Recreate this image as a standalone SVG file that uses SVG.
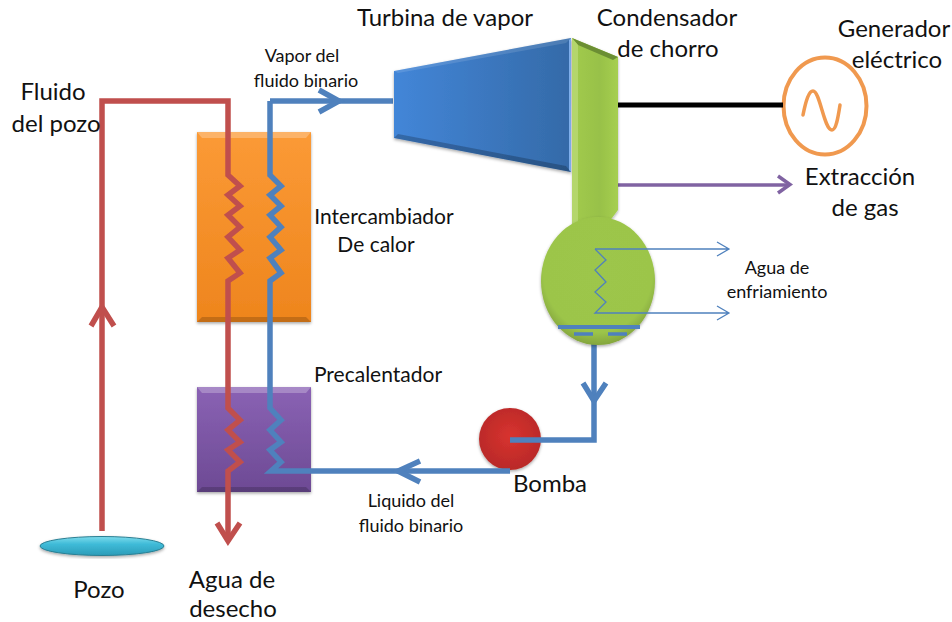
<svg xmlns="http://www.w3.org/2000/svg" width="952" height="622" viewBox="0 0 952 622">
<style>
text{font-family:Lato,"Open Sans","Liberation Sans",sans-serif;fill:#111;text-anchor:middle}
.l{font-size:24px}.m{font-size:21px}.s{font-size:18px}
.line{fill:none;stroke-linejoin:miter}
.red{stroke:#c0504d;stroke-width:5.500}
.blue{stroke:#4f81bd;stroke-width:5.500}
.thin{stroke:#4f81bd;stroke-width:1.300;fill:none}
.bev{fill:#fff;opacity:.25}
.bevd{fill:#000;opacity:.18}
</style>
<defs>
<linearGradient id="orange" x1="0" y1="0" x2="0" y2="1"><stop offset="0" stop-color="#fb9a36"/><stop offset="1" stop-color="#ee851d"/></linearGradient>
<linearGradient id="purple" x1="0" y1="0" x2="0" y2="1"><stop offset="0" stop-color="#8a62b4"/><stop offset="1" stop-color="#6d4a94"/></linearGradient>
<linearGradient id="turb" x1="0" y1="0" x2="1" y2="0"><stop offset="0" stop-color="#4386d8"/><stop offset="1" stop-color="#346aa8"/></linearGradient>
<linearGradient id="green" x1="0" y1="0" x2="1" y2="0"><stop offset="0" stop-color="#a2cb4e"/><stop offset=".6" stop-color="#98c148"/><stop offset="1" stop-color="#a6cf50"/></linearGradient>
<radialGradient id="greenb" cx=".5" cy=".42" r=".6"><stop offset="0" stop-color="#9dc64b"/><stop offset=".8" stop-color="#9cc54a"/><stop offset="1" stop-color="#7f9f3a"/></radialGradient>
<radialGradient id="redg" cx=".5" cy=".45" r=".55"><stop offset="0" stop-color="#d8322f"/><stop offset="1" stop-color="#b92a28"/></radialGradient>
<linearGradient id="cyan" x1="0" y1="0" x2="0" y2="1"><stop offset="0" stop-color="#7fdcec"/><stop offset=".4" stop-color="#3fbbd8"/><stop offset="1" stop-color="#2c9cb8"/></linearGradient>
<filter id="soft" x="-10%" y="-10%" width="120%" height="120%"><feGaussianBlur stdDeviation="0.5"/></filter>
<filter id="shadow" x="-10%" y="-10%" width="120%" height="125%"><feDropShadow dx="0" dy="1.500" stdDeviation="1.500" flood-color="#000" flood-opacity=".35"/></filter>
</defs>

<g id="intercambiador" filter="url(#shadow)">
<rect x="197" y="132" width="114" height="190" fill="url(#orange)"/>
<polygon class="bev" points="197,132 311,132 306,138 202,138"/>
<polygon class="bevd" points="197,322 311,322 306,317 202,317"/>
</g>
<g id="precalentador" filter="url(#shadow)">
<rect x="197" y="387" width="114" height="105" fill="url(#purple)"/>
<polygon class="bev" points="197,387 311,387 306,393 202,393"/>
<polygon class="bevd" points="197,492 311,492 306,487 202,487"/>
</g>
<g id="bomba">
<circle cx="510" cy="439" r="31" fill="url(#redg)" filter="url(#shadow)"/>
</g>
<g id="pozo">
<ellipse cx="102" cy="546" rx="62" ry="9.500" fill="url(#cyan)" stroke="#2a7f93" stroke-width="1" filter="url(#shadow)"/>
</g>
<g id="generador">
<ellipse cx="825" cy="106" rx="41.500" ry="48.500" fill="none" stroke="#f0994f" stroke-width="4"/>
<path d="M803,115 C806,100 809,91 813,91 C820,91 824,130 832,130 C836,130 838,118 840,105" fill="none" stroke="#f0994f" stroke-width="3.500" stroke-linecap="round"/>
</g>

<g id="connectors" filter="url(#soft)">
<path d="M618,105H783" fill="none" stroke="#000" stroke-width="5"/>
<path d="M618,185H788" fill="none" stroke="#8064a2" stroke-width="3.500"/>
<path d="M778,176L790,184.500L778,193" fill="none" stroke="#8064a2" stroke-width="3.500"/>
<path class="line red" d="M102,531V101H228V175L240,186L228,195L240,206L228,215L240,227L228,237L240,250L228,258L240,273L228,281V408L240,420L228,430L240,442L228,450L240,462L228,471V540"/>
<path class="line red" d="M217,523L228,541L240,523"/>
<path class="line red" d="M91,326L102,307L114,326"/>
<path class="line blue" d="M270,101V175L281,186L270,195L281,206L270,215L281,227L270,237L281,250L270,258L281,273L270,281V408L281,420L270,430L281,442L270,450L281,462L271,471H510"/>
<path class="line blue" d="M270,101H393"/>
<path class="line blue" d="M319,90L339,101L319,112"/>
<path class="line blue" d="M420,461L398,471L420,482"/>
<path class="line blue" d="M510,440H594V344"/>
<path class="line blue" d="M583,383L594,401L606,383"/>
</g>

<g id="turbina" filter="url(#shadow)">
<polygon points="394,71 571,38 571,172 394,138" fill="url(#turb)"/>
<polygon points="394,71 571,38 566,43 398,73" fill="#fff" opacity=".12"/>
<polygon points="394,138 571,172 566,166 398,134" fill="#000" opacity=".22"/>
<polygon points="569,40 571,38 571,172 569,170" fill="#7fb0ee"/>
</g>
<g id="condensador">
<path d="M572,38L618,57V210L606,226H573Z" fill="url(#green)" filter="url(#shadow)"/>
<polygon points="572,38 618,57 613,60 578,45" fill="#6b8e33"/>
<polygon points="572,38 578,45 578,226 572,226" fill="#b4d66c"/>
<ellipse cx="598" cy="281" rx="57" ry="64" fill="url(#greenb)" filter="url(#shadow)"/>
<path d="M595,249H729M717,242L729,249L717,256" class="thin"/>
<path d="M595,249L606,260L595,270L606,282L595,292L606,302L595,313H729M717,306L729,313L717,320" class="thin"/>
<path d="M558,327H640" stroke="#4f81bd" stroke-width="4" fill="none"/>
<path d="M574,334H593M608,334H627" stroke="#4f81bd" stroke-width="3.500" fill="none"/>
</g>

<g id="labels">
<text class="l" x="53" y="100">Fluido</text>
<text class="l" x="56" y="132">del pozo</text>
<text class="s" x="302" y="62">Vapor del</text>
<text class="s" x="306" y="87">fluido binario</text>
<text class="l" x="445" y="26">Turbina de vapor</text>
<text class="l" x="667" y="26">Condensador</text>
<text class="l" x="668" y="57">de chorro</text>
<text class="l" x="894" y="37">Generador</text>
<text class="l" x="897" y="68">eléctrico</text>
<text class="l" x="860" y="185">Extracción</text>
<text class="l" x="865" y="216">de gas</text>
<text class="s" x="777" y="274">Agua de</text>
<text class="s" x="777" y="298">enfriamiento</text>
<text class="m" x="384" y="224">Intercambiador</text>
<text class="m" x="376" y="252">De calor</text>
<text class="m" x="378" y="382">Precalentador</text>
<text class="l" x="550" y="492">Bomba</text>
<text class="s" x="411" y="507">Liquido del</text>
<text class="s" x="411" y="532">fluido binario</text>
<text class="l" x="99" y="598">Pozo</text>
<text class="l" x="232" y="588">Agua de</text>
<text class="l" x="233" y="617">desecho</text>
</g>
</svg>
